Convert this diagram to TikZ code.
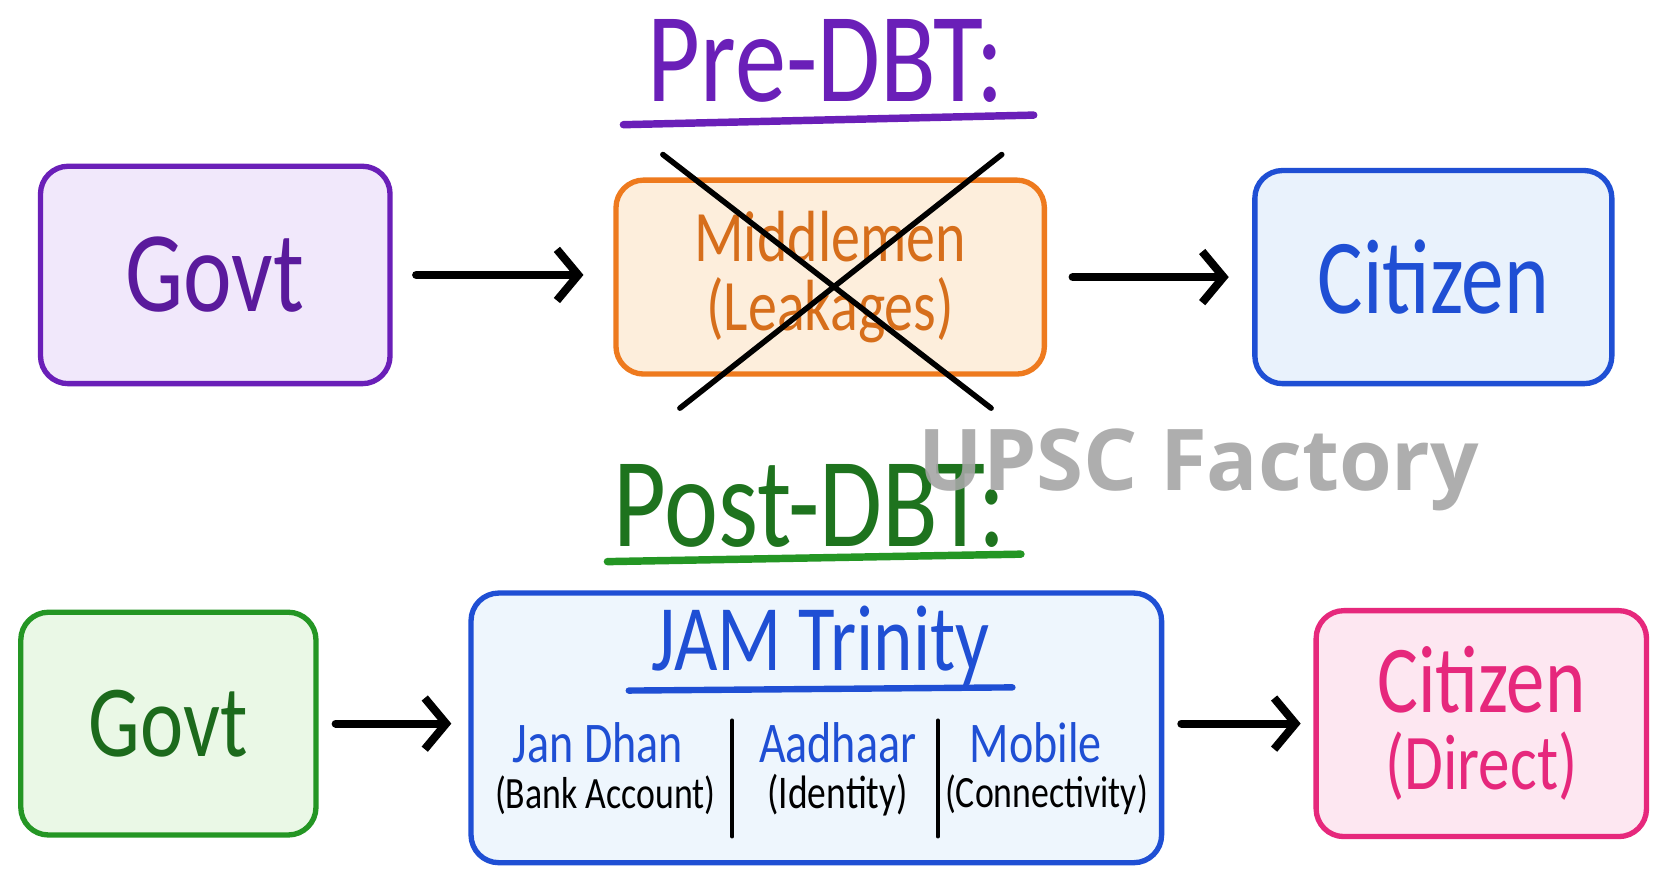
\documentclass[tikz,border=0pt]{standalone}
\usepackage{fontspec}
\setmainfont{Carlito}[FakeStretch=0.8]
\newfontfamily\markfont{Open Sans}
\usetikzlibrary{arrows.meta,positioning}

\definecolor{previolet}{HTML}{6A1FB8}
\definecolor{violetfill}{HTML}{F1E8FB}
\definecolor{leakorange}{HTML}{EE7A1E}
\definecolor{orangefill}{HTML}{FDEEDC}
\definecolor{citblue}{HTML}{1F4FD4}
\definecolor{bluefill}{HTML}{E9F2FC}
\definecolor{jamfill}{HTML}{EEF6FD}
\definecolor{postgreen}{HTML}{249624}
\definecolor{greentext}{HTML}{1C6A1C}
\definecolor{greenfill}{HTML}{EAF8E6}
\definecolor{directpink}{HTML}{E6287C}
\definecolor{pinkfill}{HTML}{FDE7F1}

\tikzset{
  sketchbox/.style={draw=#1, line width=2.5pt, rounded corners=13pt, inner sep=0pt, align=center},
  flowarrow/.style={->, line width=3.8pt},
  heading/.style={font=\fontsize{60}{62}\selectfont},
  titlerule/.style={line width=3.5pt},
  crossline/.style={line width=2.6pt, black},
  colhead/.style={text=citblue, font=\fontsize{27}{28}\selectfont},
  colnote/.style={font=\fontsize{21}{22}\selectfont},
  watermark/.style={text=black!35, opacity=0.9, font=\markfont\bfseries\fontsize{40}{42}\selectfont}
}

\begin{document}
\begin{tikzpicture}[x=0.5pt,y=-0.5pt,>={Straight Barb[length=10pt,width=24pt]},line cap=round,line join=round]
  \useasboundingbox[fill=white] (0,0) rectangle (1568,835);

  % pre-DBT row
  \node[heading, text=previolet] (pretitle) at (775,57) {Pre-DBT:};
  \draw[titlerule, previolet] (585,117) -- (970,108);

  \node[sketchbox=previolet, fill=violetfill, minimum width=164pt, minimum height=102pt,
        text=previolet!85!black, font=\fontsize{54}{56}\selectfont] (govtpre) at (202,258) {Govt};
  \node[sketchbox=leakorange, fill=orangefill, minimum width=201pt, minimum height=91pt,
        text=leakorange!90!black, font=\fontsize{34}{32.5}\selectfont] (middle) at (779,260) {Middlemen\\(Leakages)};
  \node[sketchbox=citblue, fill=bluefill, minimum width=167.5pt, minimum height=100pt,
        text=citblue, font=\fontsize{50}{52}\selectfont] (citpre) at (1345,260) {Citizen};

  \draw[flowarrow, shorten <=11pt, shorten >=14pt] (govtpre) -- (govtpre -| middle.west);
  \draw[flowarrow, shorten <=12pt, shorten >=11pt] (middle) -- (citpre);

  % struck out
  \draw[crossline] (622,145) -- (930,383);
  \draw[crossline] (940,145) -- (638,383);

  % post-DBT row
  \node[heading, text=greentext!80!postgreen] (posttitle) at (760,475) {Post-DBT:};
  \draw[titlerule, postgreen] (570,527) -- (958,520);

  \node[sketchbox=postgreen, fill=greenfill, minimum width=138.5pt, minimum height=104.5pt,
        text=greentext, font=\fontsize{48}{50}\selectfont] (govtpost) at (158,679) {Govt};
  \node[sketchbox=citblue, fill=jamfill, minimum width=324pt, minimum height=126.5pt] (jam) at (766,683) {};
  \node[sketchbox=directpink, fill=pinkfill, minimum width=155pt, minimum height=106pt,
        text=directpink, font=\fontsize{45}{36}\selectfont] (citpost) at (1390,679)
        {Citizen\\{\fontsize{37}{36}\selectfont(Direct)}};

  \draw[flowarrow, shorten <=8pt, shorten >=8pt] (govtpost) -- (govtpost -| jam.west);
  \draw[flowarrow, shorten <=8pt, shorten >=6pt] (jam.east |- citpost) -- (citpost);

  % inside the JAM box
  \node[text=citblue, font=\fontsize{44}{46}\selectfont] (jamtitle) at (770,606) {JAM Trinity};
  \draw[titlerule, citblue, line width=3pt] (590,648) -- (950,645);

  \node[colhead] (jandhan) at (561,697) {Jan Dhan};
  \node[colnote] (bank) at (568,746) {(Bank Account)};
  \node[colhead] (aadhaar) at (786,697) {Aadhaar};
  \node[colnote, font=\fontsize{22}{22}\selectfont] (identity) at (786,746) {(Identity)};
  \node[colhead] (mobile) at (972,697) {Mobile};
  \node[colnote] (connect) at (982,746) {(Connectivity)};
  \draw[line width=1.8pt] (687,676) -- (687,785);
  \draw[line width=1.8pt] (880,676) -- (880,785);

  \node[watermark] (mark) at (1125,441) {UPSC Factory};
\end{tikzpicture}
\end{document}
